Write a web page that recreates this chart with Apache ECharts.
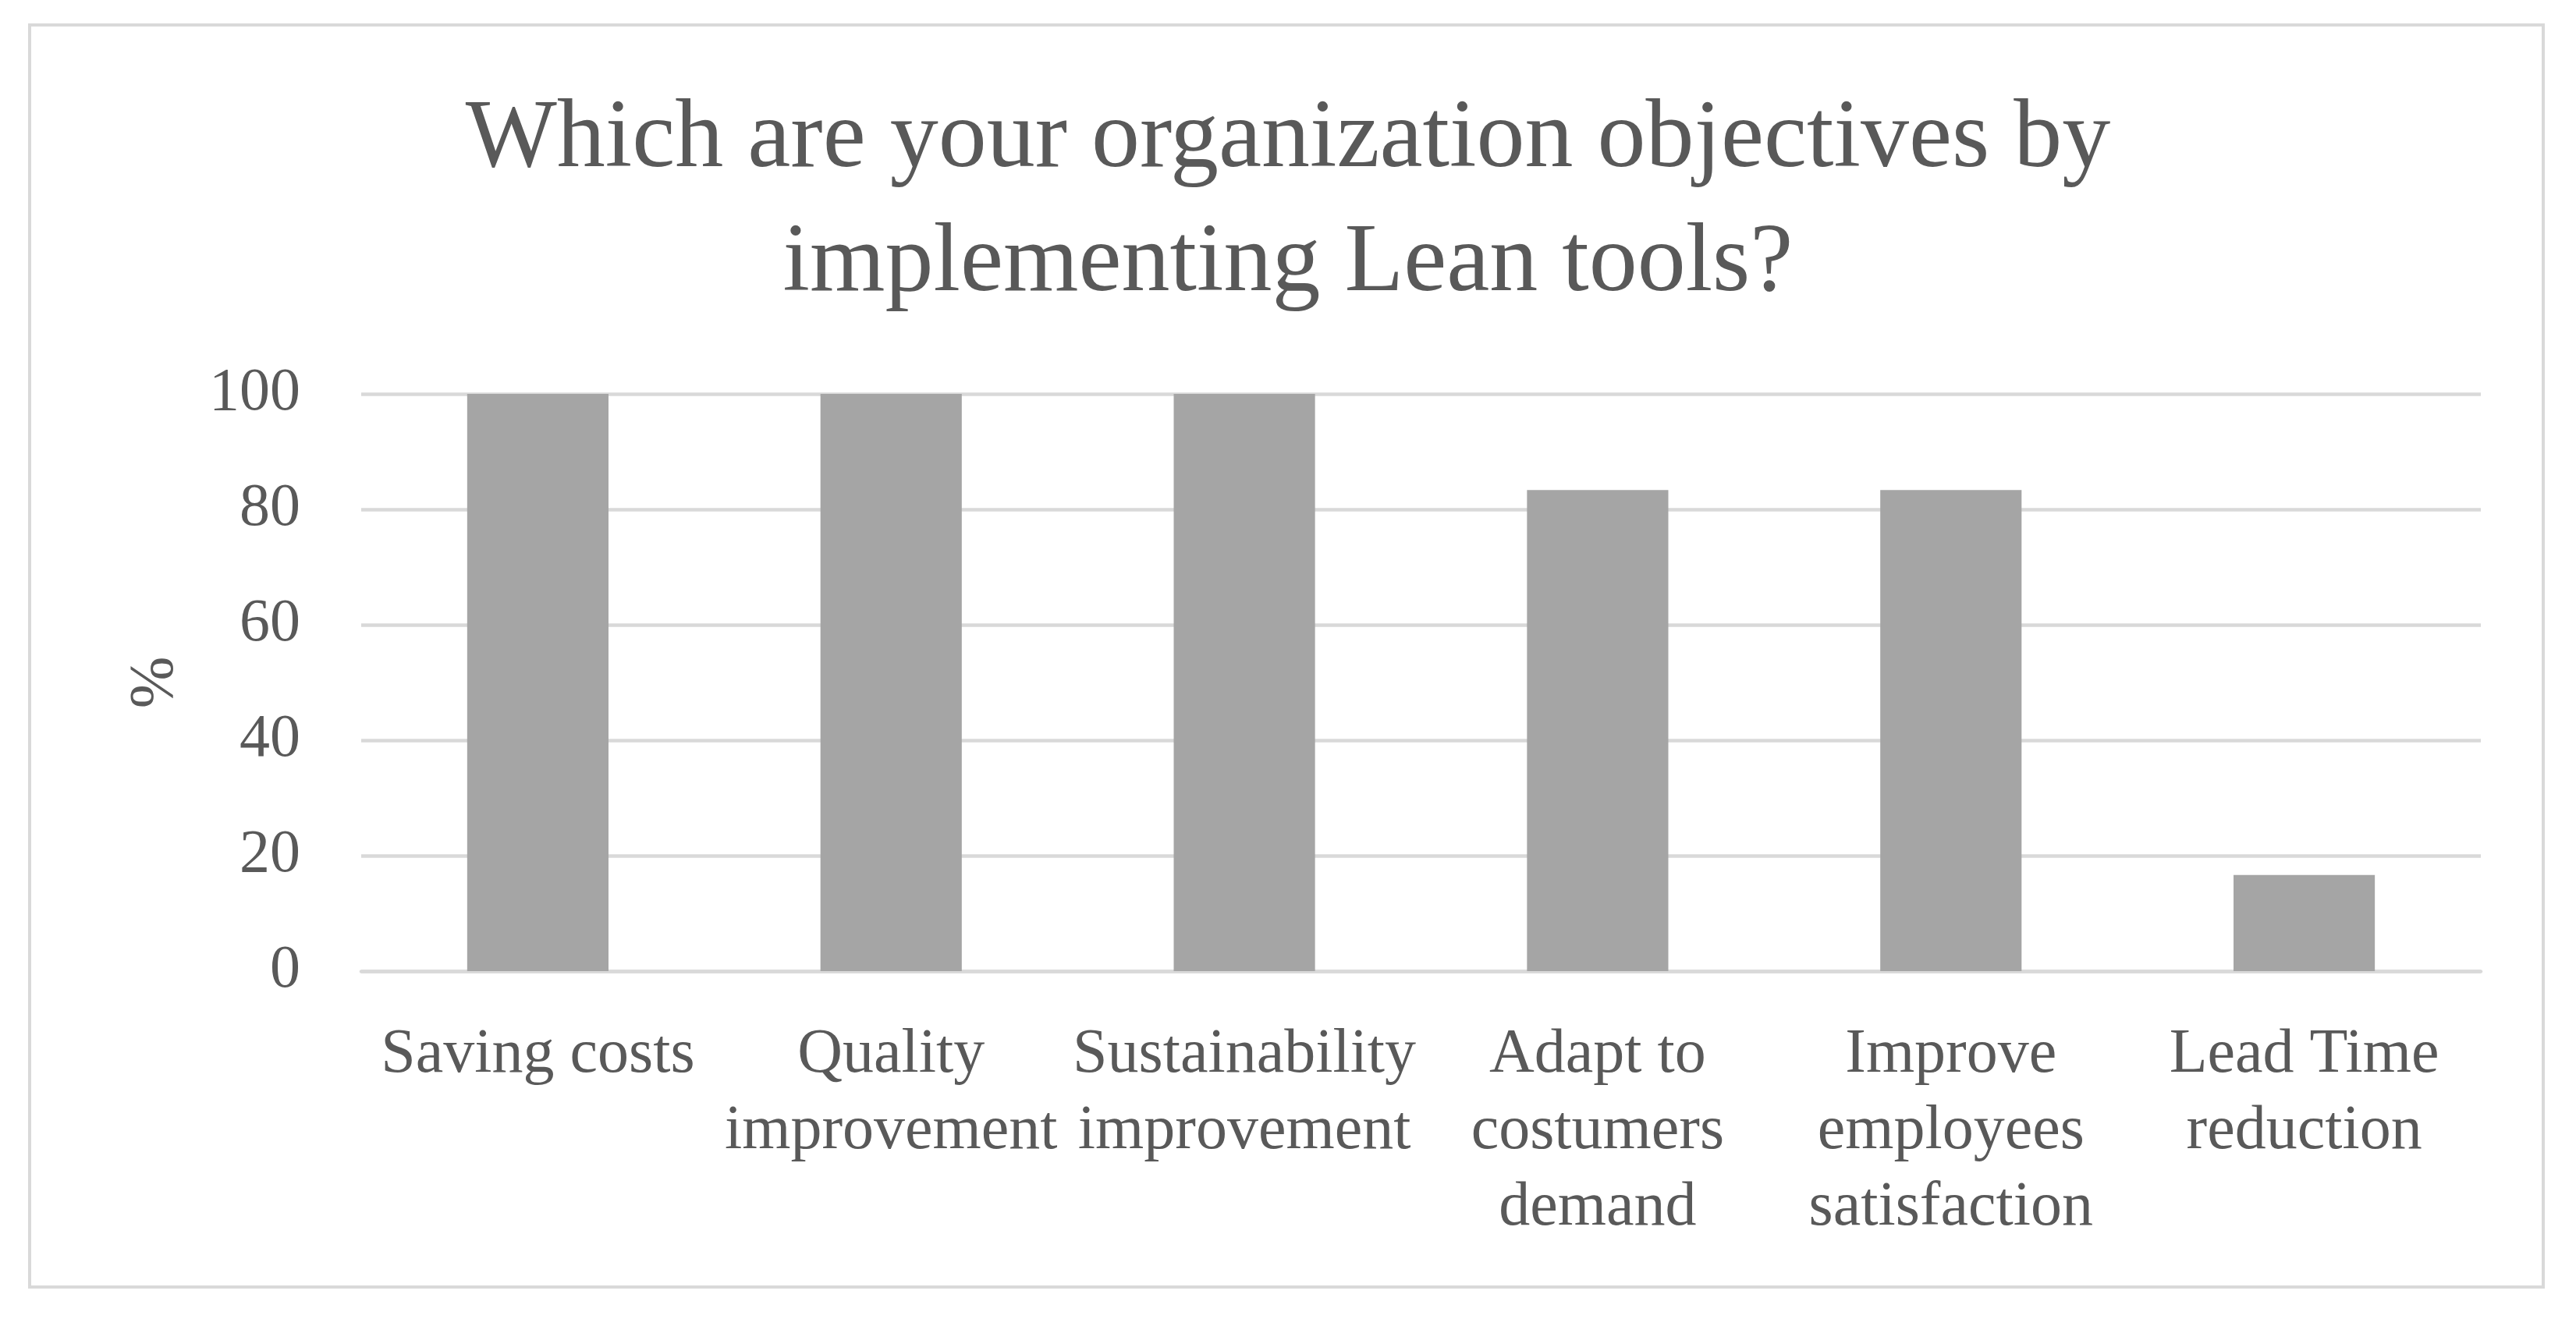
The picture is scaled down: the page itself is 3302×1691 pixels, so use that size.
<!DOCTYPE html>
<html>
<head>
<meta charset="utf-8">
<script src="https://cdn.jsdelivr.net/npm/echarts@6/dist/echarts.min.js"></script>
<style>
html,body{margin:0;padding:0;background:#fff;}
#chart{width:3302px;height:1691px;}
</style>
</head>
<body>
<div id="chart"></div>
<script>
const titleText = 'Which are your organization objectives by\nimplementing Lean tools?';
const categories = ['Saving costs', 'Quality\nimprovement', 'Sustainability\nimprovement', 'Adapt to\ncostumers\ndemand', 'Improve\nemployees\nsatisfaction', 'Lead Time\nreduction'];
const values = [100, 100, 100, 83.33, 83.33, 16.67];
const yTicks = { min: 0, max: 100, interval: 20 };
const yName = '%';

const FONT = '"Liberation Serif", "DejaVu Serif", serif';
const TXT = '#595959';
const chart = echarts.init(document.getElementById('chart'));
chart.setOption({
  animation: false,
  backgroundColor: '#fff',
  title: {
    text: titleText,
    left: 'center',
    top: 96,
    textStyle: { fontFamily: FONT, fontSize: 124, fontWeight: 'normal', color: TXT, lineHeight: 159, align: 'center' }
  },
  graphic: [{
    type: 'rect',
    shape: { x: 38, y: 32, width: 3222, height: 1618 },
    style: { fill: 'none', stroke: '#d9d9d9', lineWidth: 4 },
    silent: true
  }],
  grid: { left: 463, right: 122, top: 505, bottom: 446, containLabel: false, outerBoundsMode: 'none' },
  xAxis: {
    type: 'category',
    data: categories,
    axisLine: { lineStyle: { color: '#d9d9d9', width: 4.5 } },
    axisTick: { show: false },
    axisLabel: { interval: 0, margin: 59, fontFamily: FONT, fontSize: 80, color: TXT, lineHeight: 98, align: 'center', verticalAlign: 'top' }
  },
  yAxis: {
    type: 'value',
    min: yTicks.min, max: yTicks.max, interval: yTicks.interval,
    name: yName,
    nameLocation: 'middle',
    nameRotate: 90,
    nameGap: 223,
    nameTextStyle: { fontFamily: FONT, fontSize: 80, color: TXT },
    axisLine: { show: false },
    axisTick: { show: false },
    axisLabel: { margin: 78, fontFamily: FONT, fontSize: 78, color: TXT },
    splitLine: { lineStyle: { color: '#d9d9d9', width: 4.5 } }
  },
  series: [{
    type: 'bar',
    data: values,
    barWidth: '40%',
    itemStyle: { color: '#a5a5a5' }
  }]
});
</script>
</body>
</html>
